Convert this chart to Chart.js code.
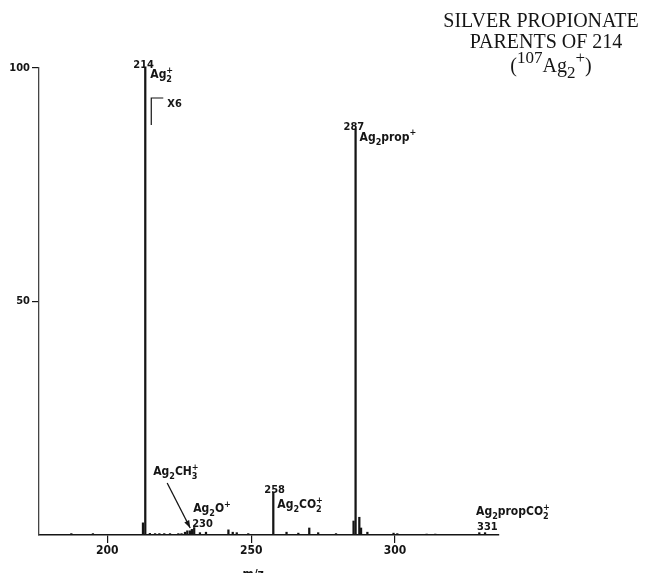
<!DOCTYPE html>
<html>
<head>
<meta charset="utf-8">
<script src="https://cdn.jsdelivr.net/npm/chart.js@4.4.1/dist/chart.umd.min.js"></script>
<style>
  html, body { margin: 0; padding: 0; background: #fff; }
</style>
</head>
<body>
<canvas id="spectrum" width="646" height="573"></canvas>
<script>
// stick spectrum (m/z, relative intensity %)
const peakMz = [
  187.5, 195.0, 212.4, 213.2, 214.8, 216.6, 218.1, 219.8, 221.8, 224.7, 225.8,
  227.0, 227.8, 228.7, 229.4, 230.2, 232.2, 234.3,
  242.1, 243.6, 245.0, 249.0,
  257.7, 262.3, 266.4, 270.2, 273.3, 279.5,
  285.6, 286.3, 287.6, 288.2, 290.4,
  299.5, 300.8, 311.0, 314.0, 329.3, 331.3
];
const peakHeight = [
  0.3, 0.3, 2.6, 100, 0.35, 0.3, 0.3, 0.3, 0.3, 0.3, 0.3,
  0.6, 0.9, 0.9, 1.2, 1.6, 0.5, 0.6,
  1.1, 0.6, 0.5, 0.3,
  9.2, 0.6, 0.4, 1.5, 0.5, 0.3,
  3.0, 87, 3.8, 1.5, 0.6,
  0.4, 0.3, 0.2, 0.2, 0.5, 0.5
];
const xTicks = [200, 250, 300];
const yTicks = [50, 100];
const titleLines = ['SILVER PROPIONATE', 'PARENTS OF 214', '(^{107}Ag_2^+)'];

const SANS = "'Liberation Sans Narrow', 'DejaVu Sans Condensed', 'Liberation Sans', Arial, sans-serif";
const SERIF = "'Liberation Serif', 'DejaVu Serif', serif";
const INK = '#151515';

// draws "Ag_2CO_2^+" style strings; _x subscript, ^x superscript, {..} groups
// stack: put a superscript right above a preceding subscript
function drawRich(ctx, str, x, y, size, family, weight, stack, smallScale) {
  const parts = [];
  let i = 0;
  while (i < str.length) {
    const c = str[i];
    if (c === '_' || c === '^') {
      const kind = c === '_' ? -1 : 1;
      i++;
      if (str[i] === '{') {
        const j = str.indexOf('}', i);
        parts.push([str.slice(i + 1, j), kind]);
        i = j + 1;
      } else {
        parts.push([str[i], kind]);
        i++;
      }
    } else {
      let j = i;
      while (j < str.length && str[j] !== '_' && str[j] !== '^') j++;
      parts.push([str.slice(i, j), 0]);
      i = j;
    }
  }
  let cx = x, subX = null;
  parts.forEach(([t, k], idx) => {
    const fs = k === 0 ? size : Math.round(size * (smallScale || 0.78));
    ctx.font = `${weight} ${fs}px ${family}`;
    const w = ctx.measureText(t).width;
    const dy = k === -1 ? size * 0.32 : k === 1 ? -size * 0.45 : 0;
    let tx = cx;
    if (stack && k === 1 && idx > 0 && parts[idx - 1][1] === -1) {
      tx = subX;
      cx = Math.max(cx, subX + w);
    } else {
      cx += w;
    }
    if (k === -1) subX = tx;
    if (!ctx.measureOnly) ctx.fillText(t, tx, y + dy);
  });
  return cx - x;
}

const annotate = {
  id: 'annotate',
  afterDraw(chart) {
    const { ctx, scales: { x, y } } = chart;
    const px = m => x.getPixelForValue(m);
    const py = v => y.getPixelForValue(v);
    ctx.save();
    ctx.fillStyle = INK;
    ctx.strokeStyle = INK;
    ctx.textAlign = 'left';
    ctx.textBaseline = 'alphabetic';

    // title block, top right
    const tcx = [541, 546, 551];
    [27, 48, 72].forEach((base, k) => {
      const line = titleLines[k];
      ctx.measureOnly = true;
      const w = drawRich(ctx, line, 0, 0, 20, SERIF, 'normal', false, 0.85);
      ctx.measureOnly = false;
      drawRich(ctx, line, tcx[k] - w / 2, base, 20, SERIF, 'normal', false, 0.85);
    });

    const lab = (s, xx, yy, size) => drawRich(ctx, s, xx, yy, size || 12, SANS, 'bold', true);

    // 214
    const p214 = px(peakMz[3]), t214 = py(peakHeight[3]);
    lab('214', p214 - 12, t214 + 0, 11);
    lab('Ag_2^+', p214 + 5, t214 + 10);
    ctx.lineWidth = 1.2;
    ctx.beginPath();
    ctx.moveTo(p214 + 6, t214 + 57);
    ctx.lineTo(p214 + 6, t214 + 30);
    ctx.lineTo(p214 + 18, t214 + 30);
    ctx.stroke();
    lab('X6', p214 + 22, t214 + 39, 11);

    // 287
    const p287 = px(peakMz[29]), t287 = py(peakHeight[29]);
    lab('287', p287 - 12, t287 + 1, 11);
    lab('Ag_2prop^+', p287 + 4, t287 + 12);

    // 258
    const p258 = px(peakMz[22]), t258 = py(peakHeight[22]);
    lab('258', p258 - 9, t258 + 1, 11);
    lab('Ag_2CO_2^+', p258 + 4, t258 + 16);

    // 230 group
    const p230 = px(peakMz[15]), base = py(0);
    lab('Ag_2CH_3^+', p230 - 41, base - 60);
    lab('Ag_2O^+', p230 - 1, base - 23);
    lab('230', p230 - 2, base - 8, 11);
    const ax0 = p230 - 27, ay0 = base - 52, ax1 = p230 - 4, ay1 = base - 7;
    ctx.lineWidth = 1.3;
    ctx.beginPath();
    ctx.moveTo(ax0, ay0);
    ctx.lineTo(ax1, ay1);
    ctx.stroke();
    const ang = Math.atan2(ay1 - ay0, ax1 - ax0);
    ctx.beginPath();
    ctx.moveTo(ax1, ay1);
    ctx.lineTo(ax1 - 8 * Math.cos(ang - 0.35), ay1 - 8 * Math.sin(ang - 0.35));
    ctx.lineTo(ax1 - 8 * Math.cos(ang + 0.35), ay1 - 8 * Math.sin(ang + 0.35));
    ctx.closePath();
    ctx.fill();

    // 331
    const p331 = px(peakMz[38]);
    lab('Ag_2propCO_2^+', p331 - 9, base - 20);
    lab('331', p331 - 8, base - 5, 11);

    // axis title, cut by the page edge as in the scan
    ctx.textAlign = 'center';
    ctx.font = `bold 12px ${SANS}`;
    ctx.fillText('m/z', px(250.7), 578);
    ctx.restore();
  }
};

const ctx = document.getElementById('spectrum').getContext('2d');
new Chart(ctx, {
  type: 'bar',
  data: {
    datasets: [{
      data: peakMz.map((m, i) => ({ x: m, y: peakHeight[i] })),
      backgroundColor: INK,
      borderWidth: 0,
      barThickness: 1.6,
      grouped: false
    }]
  },
  options: {
    responsive: false,
    animation: false,
    devicePixelRatio: 1,
    layout: { padding: { top: 68, right: 147, left: 0, bottom: 0 } },
    plugins: { legend: { display: false }, tooltip: { enabled: false } },
    scales: {
      x: {
        type: 'linear',
        offset: false,
        min: 176.26,
        max: 336.15,
        afterBuildTicks: s => { s.ticks = xTicks.map(v => ({ value: v })); },
        afterFit: s => { s.height = 38; },
        grid: { offset: false, drawOnChartArea: false, tickLength: 8, color: INK, lineWidth: 1.2 },
        border: { color: INK, width: 1.5 },
        ticks: { font: { family: SANS, size: 12, weight: 'bold' }, color: INK, padding: 1, maxRotation: 0 }
      },
      y: {
        min: 0,
        max: 100,
        afterBuildTicks: s => { s.ticks = yTicks.map(v => ({ value: v })); },
        afterFit: s => { s.width = 39; },
        grid: { drawOnChartArea: false, tickLength: 7, color: INK, lineWidth: 1.2 },
        border: { color: '#444', width: 1.3 },
        ticks: { font: { family: SANS, size: 11, weight: 'bold' }, color: INK, padding: 2 }
      }
    }
  },
  plugins: [annotate]
});
</script>
</body>
</html>
